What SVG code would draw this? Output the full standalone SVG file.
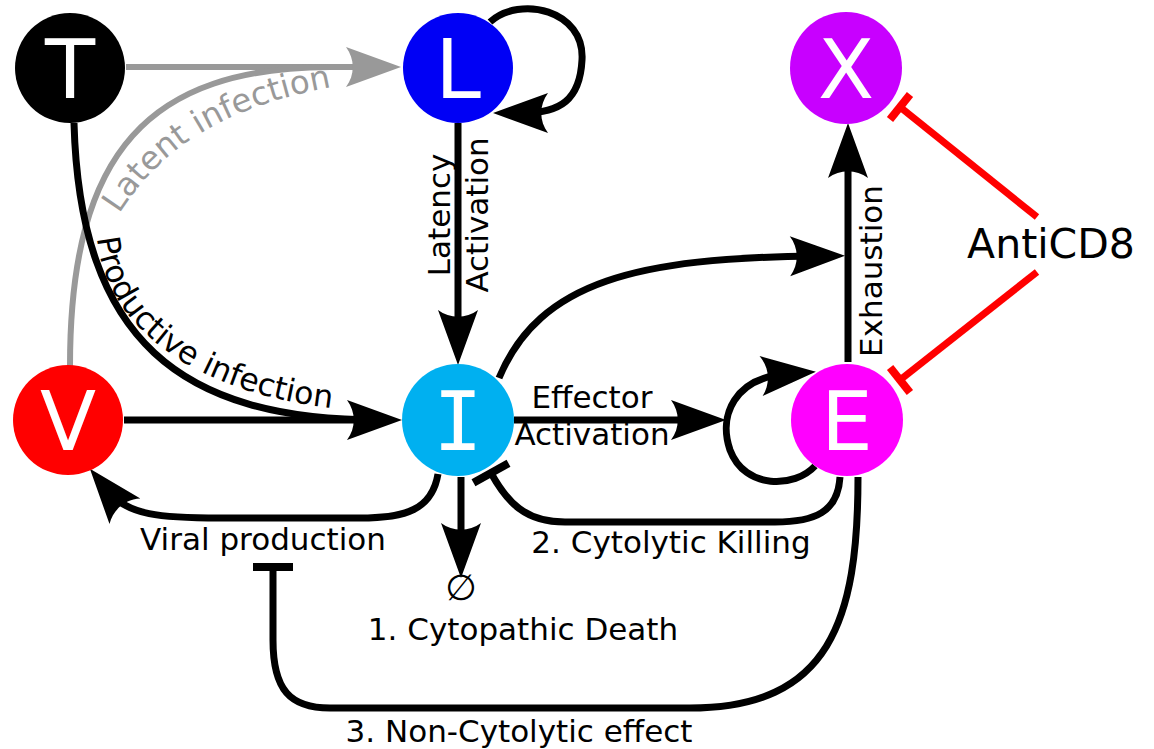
<svg xmlns="http://www.w3.org/2000/svg" width="1154" height="749" viewBox="0 0 1154 749">
<style>
.lbl{font-family:"DejaVu Sans","Verdana",sans-serif;font-size:31px;fill:#000}
.node text{font-family:"DejaVu Sans","Verdana",sans-serif;font-size:82px;fill:#fff;text-anchor:middle}
.blk{fill:none;stroke:#000;stroke-width:7}
.gry{fill:none;stroke:#999;stroke-width:6}
.red{fill:none;stroke:#f00;stroke-width:7}
</style>
<defs>
<marker id="arr" markerUnits="userSpaceOnUse" orient="auto" refX="0" refY="0" markerWidth="10" markerHeight="10" overflow="visible"><path d="M30 0 L-25 -20 C-16 -8 -16 8 -25 20 Z" fill="#000"/></marker>
<marker id="arrg" markerUnits="userSpaceOnUse" orient="auto" refX="0" refY="0" markerWidth="10" markerHeight="10" overflow="visible"><path d="M30 0 L-25 -20 C-16 -8 -16 8 -25 20 Z" fill="#999"/></marker>
<marker id="bar" markerUnits="userSpaceOnUse" orient="auto" refX="0" refY="0" markerWidth="10" markerHeight="10" overflow="visible"><rect x="-4" y="-20" width="8" height="40" fill="#000"/></marker>
<marker id="barr" markerUnits="userSpaceOnUse" orient="auto" refX="0" refY="0" markerWidth="10" markerHeight="10" overflow="visible"><rect x="-4" y="-16" width="8" height="32" fill="#f00"/></marker>
<path id="pLat" d="M119 214 C160 150 222 104 350 84"/>
<path id="pProd" d="M97 238 C106 330 200 398 352 410"/>
</defs>
<g id="connectors">
<path class="gry" d="M126 67 L371 67" marker-end="url(#arrg)"/>
<path class="gry" d="M70 366 C70 150 150 68 330 67"/>
<path class="blk" d="M490 22 C520 -5 585 10 582 60 C580 100 560 113 523 113" marker-end="url(#arr)"/>
<path class="blk" d="M458 123 L458 335" marker-end="url(#arr)"/>
<path class="blk" d="M74 123 C80 340 180 420 380 420"/>
<path class="blk" d="M124 420 L372 420" marker-end="url(#arr)"/>
<path class="blk" d="M514 420 L696 420" marker-end="url(#arr)"/>
<path class="blk" d="M815 466 C795 488 745 490 730 450 C718 415 735 378 786 374" marker-end="url(#arr)"/>
<path class="blk" d="M499 378 C540 280 640 258 815 256" marker-end="url(#arr)"/>
<path class="blk" d="M848 362 L848 153" marker-end="url(#arr)"/>
<path class="blk" d="M461 477 L461 548" marker-end="url(#arr)"/>
<path class="blk" d="M438 474 C432 510 405 518 360 518 L220 518 C160 518 128 515 109 492" marker-end="url(#arr)"/>
<path class="blk" d="M840 477 C838 512 815 522 775 522 L565 522 C525 522 507 502 491 473" marker-end="url(#bar)"/>
<path class="blk" d="M858 477 C858 620 830 708 690 708 L330 708 C290 708 273 690 273 640 L273 567" marker-end="url(#bar)"/>
<path class="red" d="M1037 217 L900 107" marker-end="url(#barr)"/>
<path class="red" d="M1037 272 L900 380" marker-end="url(#barr)"/>
</g>
<g id="labels">
<text class="lbl" style="fill:#999;font-size:32.5px"><textPath href="#pLat">Latent infection</textPath></text>
<text class="lbl" style="font-size:31.5px"><textPath href="#pProd">Productive infection</textPath></text>
<text class="lbl" text-anchor="middle" transform="translate(450,215) rotate(-90)">Latency</text>
<text class="lbl" text-anchor="middle" transform="translate(488,215) rotate(-90)">Activation</text>
<text class="lbl" text-anchor="middle" x="592" y="408">Effector</text>
<text class="lbl" text-anchor="middle" x="592" y="445">Activation</text>
<text class="lbl" text-anchor="middle" transform="translate(882,271) rotate(-90)">Exhaustion</text>
<text class="lbl" text-anchor="middle" x="1051" y="258" style="font-size:41px">AntiCD8</text>
<text class="lbl" text-anchor="middle" x="263" y="550">Viral production</text>
<text class="lbl" text-anchor="middle" x="461" y="600" style="font-size:36px">∅</text>
<text class="lbl" text-anchor="middle" x="523" y="640">1. Cytopathic Death</text>
<text class="lbl" text-anchor="middle" x="671" y="553">2. Cytolytic Killing</text>
<text class="lbl" text-anchor="middle" x="519" y="742">3. Non-Cytolytic effect</text>
</g>
<g id="node-T" class="node"><circle cx="70" cy="68" r="55" fill="#000"/><text x="70" y="98">T</text></g>
<g id="node-L" class="node"><circle cx="458" cy="68" r="55" fill="#0000f5"/><text x="458" y="98">L</text></g>
<g id="node-X" class="node"><circle cx="846" cy="68" r="56" fill="#c800ff"/><text x="846" y="98">X</text></g>
<g id="node-V" class="node"><circle cx="68" cy="420" r="55" fill="#ff0000"/><text x="68" y="450">V</text></g>
<g id="node-I" class="node"><circle cx="458" cy="420" r="56" fill="#00b0f0"/><text x="458" y="450" style="font-family:'DejaVu Sans Mono',monospace">I</text></g>
<g id="node-E" class="node"><circle cx="847" cy="420" r="56" fill="#ff00ff"/><text x="847" y="450">E</text></g>
</svg>
